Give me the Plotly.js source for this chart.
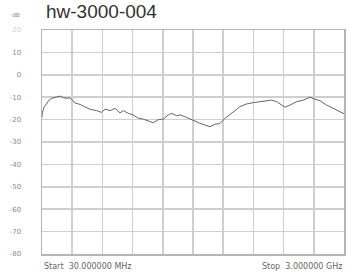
<!DOCTYPE html>
<html><head><meta charset="utf-8">
<script src="https://cdn.plot.ly/plotly-3.0.1.min.js"></script>
<style>html,body{margin:0;padding:0;background:#fff}#chart{width:351px;height:278px}</style>
</head><body><div id="chart"></div>
<script>
const freqGHz = [0.03,0.033,0.05,0.076,0.1,0.125,0.16,0.207,0.24,0.273,0.3,0.322,0.355,0.39,0.436,0.47,0.502,0.568,0.617,0.65,0.699,0.748,0.797,0.83,0.879,0.928,0.977,1.026,1.075,1.125,1.174,1.223,1.272,1.306,1.355,1.387,1.453,1.518,1.584,1.633,1.682,1.731,1.78,1.83,1.879,1.928,1.977,2.043,2.108,2.174,2.24,2.289,2.338,2.387,2.42,2.469,2.535,2.6,2.666,2.715,2.764,2.83,2.895,2.944,2.993,3.0];
const levelDb = [-19,-17,-14.5,-12.6,-11.3,-10.5,-10,-9.5,-10.2,-10.5,-10.3,-10.9,-12.6,-13,-13.9,-14.6,-15.4,-16,-16.8,-15.3,-16,-15,-17,-16,-17.2,-17.9,-19.4,-19.8,-20.5,-21.4,-20,-19.8,-17.9,-17.2,-18.3,-17.9,-19,-20.5,-21.7,-22.4,-23.2,-22.1,-21.7,-19.4,-17.5,-16,-14.2,-13,-12.4,-12,-11.6,-11.3,-12,-13.5,-14.5,-13.5,-12,-11.3,-10,-10.9,-11.6,-13.5,-14.9,-16,-17.2,-17.4];
const yTickVals = [20,10,0,-10,-20,-30,-40,-50,-60,-70,-80];
const yTickText = ['<span style="color:#d0d0d0">20</span>','10','0','-10','-20','-30','-40','-50','-60','-70','-80'];
const chartTitle = 'hw-3000-004';
const unitLabel = 'dB';
const startLabel = 'Start  30.000000 MHz';
const stopLabel = 'Stop  3.000000 GHz';

const trace = {x: freqGHz, y: levelDb, type: 'scatter', mode: 'lines',
  line: {color: '#666', width: 1}, hoverinfo: 'skip'};

const layout = {
  width: 351, height: 278,
  margin: {l: 42, r: 7, t: 30, b: 24, pad: 0},
  paper_bgcolor: '#fff', plot_bgcolor: '#fff',
  showlegend: false,
  xaxis: {range: [0.03, 3.0], tick0: 0.03, dtick: 0.297, showticklabels: false,
    showgrid: true, gridcolor: '#cfcfcf', gridwidth: 1.5, zeroline: false,
    showline: true, linecolor: '#b5b5b5', linewidth: 1.5, mirror: true, ticks: ''},
  yaxis: {range: [-80, 20], tickmode: 'array', tickvals: yTickVals, ticktext: yTickText,
    showgrid: true, gridcolor: '#cfcfcf', gridwidth: 1.5, zeroline: false,
    showline: true, linecolor: '#b5b5b5', linewidth: 1.5, mirror: true, ticks: '',
    ticklabelstandoff: 18,
    tickfont: {family: 'DejaVu Sans, sans-serif', size: 7, color: '#8a8a8a'}},
  annotations: [
    {text: chartTitle, xref: 'paper', yref: 'paper', x: 0.005, y: 1.025, xanchor: 'left', yanchor: 'bottom',
     showarrow: false, font: {family: 'Liberation Sans, Arial, sans-serif', size: 19, color: '#333'}},
    {text: unitLabel, xref: 'paper', yref: 'paper', x: -0.085, y: 1.068, xanchor: 'center', yanchor: 'middle',
     showarrow: false, font: {family: 'DejaVu Sans, sans-serif', size: 6, color: '#888'}},
    {text: startLabel, xref: 'paper', yref: 'paper', x: 0.0, y: -0.055, xanchor: 'left', yanchor: 'middle',
     showarrow: false, font: {family: 'DejaVu Sans, sans-serif', size: 8, color: '#666'}},
    {text: stopLabel, xref: 'paper', yref: 'paper', x: 1.0, y: -0.058, xanchor: 'right', yanchor: 'middle',
     showarrow: false, font: {family: 'DejaVu Sans, sans-serif', size: 8, color: '#666'}}
  ]
};
Plotly.newPlot('chart', [trace], layout, {staticPlot: true, displayModeBar: false});
</script></body></html>
